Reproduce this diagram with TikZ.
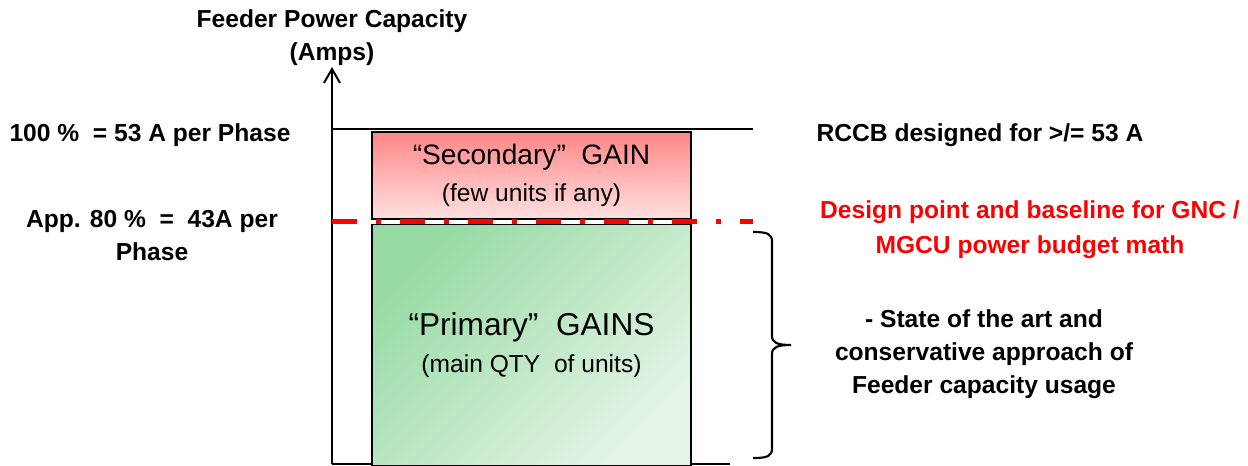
\documentclass[tikz,border=0pt]{standalone}
\usepackage{fontspec}
\setmainfont{Liberation Sans}
\usetikzlibrary{arrows.meta,positioning}
\definecolor{secTop}{RGB}{255,134,134}
\definecolor{secBot}{RGB}{255,224,224}
\definecolor{priDark}{RGB}{152,218,164}
\definecolor{priLight}{RGB}{228,245,230}

\begin{document}
\begin{tikzpicture}[
  x=0.02cm, y=-0.02cm,
  lbl/.style={font=\fontsize{14}{18.8}\selectfont\bfseries, align=center, inner sep=0pt},
  gainbox/.style={draw, line width=0.9pt, minimum width=6.38cm, inner sep=0pt,
              align=center, font=\fontsize{14}{21}\selectfont},
  secbox/.style={gainbox, minimum height=1.74cm, top color=secTop, bottom color=secBot},
  pribox/.style={gainbox, minimum height=4.82cm, top color=priDark, bottom color=priLight,
              shading angle=45},
  axisln/.style={line width=1.1pt, -{Straight Barb[length=0.28cm,width=0.32cm]}},
  limit/.style={line width=0.8pt},
  design/.style={red, line width=2.85pt,
              dash pattern=on 0.5cm off 0.38cm on 0.1cm off 0.38cm},
  brc/.style={line width=1.2pt},
]
\useasboundingbox (0,0) rectangle (1248,466);

% axis and the two limits
\coordinate (O) at (332,464);
\coordinate (ytip) at (332,67);
\coordinate (fullL) at (332,129);
\coordinate (fullR) at (753,129);
\coordinate (baseR) at (730,464);
\draw[axisln] (O) -- (ytip);
\draw[limit] (fullL) -- (fullR);
\draw[limit] (O) -- (baseR);

% the two gain bands
\node[secbox] (sec) at (531.5,175.5)
  {{\fontsize{16}{21}\selectfont “Secondary”\ \ GAIN}\\(few units if any)};
\node[pribox, below=0.08cm of sec] (pri)
  {{\fontsize{18}{21}\selectfont “Primary”\ \ GAINS}\\(main QTY\ \ of units)};

% 80 % design line
\coordinate (dsgL) at (332,221.5);
\coordinate (dsgR) at (753,221.5);
\draw[design] (dsgL) -- (dsgR);

% brace
\draw[brc] (753,232) .. controls (768,232) and (772,234) .. (772,242) -- (772,336)
  .. controls (772,343) and (778,345) .. (791,345)
  .. controls (778,345) and (772,347) .. (772,354) -- (772,448)
  .. controls (772,456) and (768,458) .. (753,458);

% labels
\node[lbl] (ttl) at (332,38) {Feeder Power Capacity\\(Amps)};
\node[lbl, anchor=base] (full) at (150,142) {100 \%\ \ = 53 A per Phase};
\node[lbl, anchor=base] (rccb) at (980,142) {RCCB designed for >/= 53 A};
\node[lbl] (app) at (152,236) {App. 80 \%\ \ =\ \ 43A per\\Phase};
\node[lbl, red, font=\fontsize{14}{19.9}\selectfont\bfseries] (dsgn) at (1030,230)
  {Design point and baseline for GNC /\\MGCU power budget math};
\node[lbl] (soa) at (984,354) {- State of the art and\\conservative approach of\\Feeder capacity usage};
\end{tikzpicture}
\end{document}
